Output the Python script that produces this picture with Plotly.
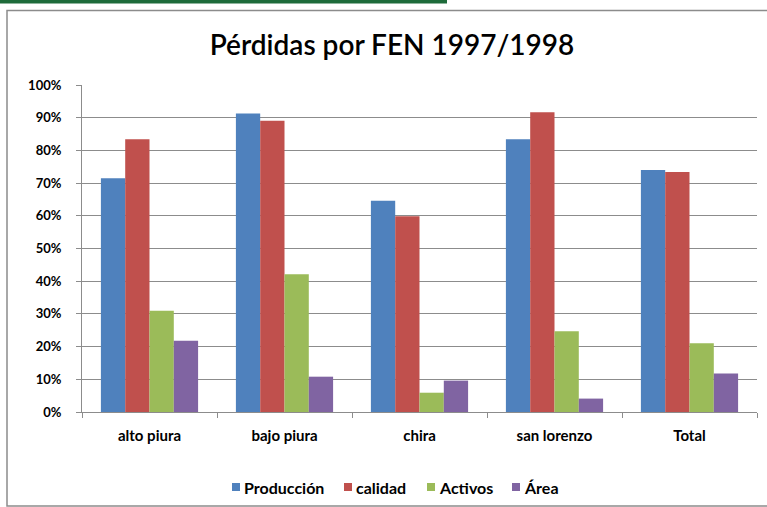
import plotly.graph_objects as go

categories = ["alto piura", "bajo piura", "chira", "san lorenzo", "Total"]
produccion = [0.715, 0.913, 0.646, 0.834, 0.740]
calidad = [0.834, 0.891, 0.599, 0.917, 0.734]
activos = [0.310, 0.421, 0.059, 0.247, 0.210]
area = [0.218, 0.108, 0.096, 0.041, 0.118]
series_names = ["Producción", "calidad", "Activos", "Área"]
series_colors = ["#4f81bd", "#c0504d", "#9bbb59", "#8064a2"]
tick_vals = [0, 0.1, 0.2, 0.3, 0.4, 0.5, 0.6, 0.7, 0.8, 0.9, 1.0]

W, H = 767, 507
L, R, T, B = 82, 10, 85, 95
pw, ph = W - L - R, H - T - B

def px_x(x):
    return (x - L) / pw

def px_y(y):
    return (H - B - y) / ph

font_family = "Lato, Open Sans, sans-serif"

fig = go.Figure()
for name, vals, col in zip(series_names, [produccion, calidad, activos, area], series_colors):
    fig.add_trace(go.Bar(x=categories, y=vals, name=name, showlegend=False,
                         marker=dict(color=col, line=dict(width=0))))

shapes = [
    dict(type="rect", xref="paper", yref="paper", x0=px_x(7), x1=px_x(780), y0=px_y(506), y1=px_y(10.5),
         line=dict(color="#8c8c8c", width=1.5), fillcolor="rgba(0,0,0,0)", layer="below"),
    dict(type="rect", xref="paper", yref="paper", x0=px_x(-2), x1=px_x(447), y0=px_y(3.5), y1=px_y(-2),
         line=dict(width=0), fillcolor="#1e6b3a", layer="above"),
]
annotations = []
legend_x = [232, 344, 427, 512]
for lx, name, col in zip(legend_x, series_names, series_colors):
    shapes.append(dict(type="rect", xref="paper", yref="paper", x0=px_x(lx), x1=px_x(lx + 8),
                       y0=px_y(491), y1=px_y(483), line=dict(width=0), fillcolor=col))
    annotations.append(dict(xref="paper", yref="paper", x=px_x(lx + 10), y=px_y(487), xanchor="left",
                            yanchor="middle", showarrow=False, text=name,
                            font=dict(size=16, color="black", family=font_family, weight="bold")))

fig.update_layout(
    width=W, height=H,
    margin=dict(l=L, r=R, t=T, b=B, autoexpand=False),
    paper_bgcolor="white", plot_bgcolor="white",
    barmode="group", bargap=0.28, bargroupgap=0,
    title=dict(text="Pérdidas por FEN 1997/1998", x=392 / W, xanchor="center",
               y=1 - 45 / H, yanchor="middle",
               font=dict(family=font_family, size=28, color="black", weight=600)),
    font=dict(family=font_family, color="black"),
    showlegend=False,
    xaxis=dict(showline=True, linecolor="#8c8c8c", linewidth=1, ticks="outside", tickson="boundaries",
               ticklen=5, tickcolor="#8c8c8c", showgrid=False, ticklabelstandoff=10,
               tickfont=dict(size=15, color="black", family=font_family, weight="bold")),
    yaxis=dict(range=[0, 1.0], tickvals=tick_vals, tickformat=".0%", showline=True, linecolor="#8c8c8c",
               linewidth=1, ticks="outside", ticklen=5, tickcolor="#8c8c8c", showgrid=True,
               gridcolor="#8c8c8c", gridwidth=1, zeroline=False, ticklabelstandoff=12,
               tickfont=dict(size=13, color="black", family=font_family, weight="bold")),
    shapes=shapes,
    annotations=annotations,
)

fig.write_html("out.html", config={"displayModeBar": False},
               post_script="document.body.style.margin='0px';")
